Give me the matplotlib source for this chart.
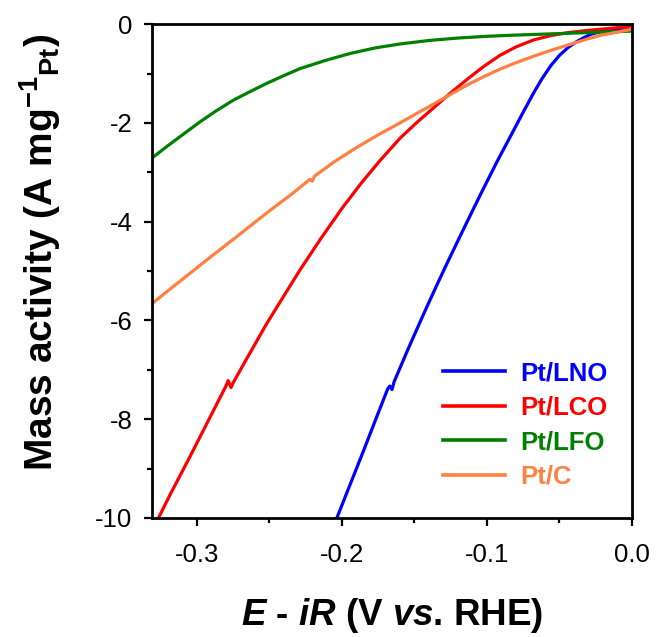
import numpy as np
import matplotlib
matplotlib.use('Agg')
import matplotlib.pyplot as plt
from matplotlib.ticker import MultipleLocator

plt.rcParams.update({
    'font.family': 'Liberation Sans',
    'mathtext.fontset': 'custom',
    'mathtext.rm': 'Liberation Sans',
    'mathtext.bf': 'Liberation Sans:bold',
    'mathtext.it': 'Liberation Sans:italic',
    'mathtext.bfit': 'Liberation Sans:italic:bold',
    'axes.unicode_minus': False,
})

# polarisation curves, E - iR (V vs RHE) and mass activity (A/mg Pt)
e_lno = [-0.2035, -0.195, -0.185, -0.176, -0.1685, -0.167, -0.1655, -0.164, -0.155, -0.144,
         -0.135, -0.127, -0.116, -0.104, -0.093, -0.082, -0.075, -0.068, -0.062, -0.056,
         -0.050, -0.044, -0.038, -0.033, -0.028, -0.020, -0.010, 0.0]
i_lno = [-10.0, -9.37, -8.63, -7.95, -7.39, -7.33, -7.40, -7.24, -6.62, -5.89,
         -5.31, -4.81, -4.14, -3.42, -2.78, -2.17, -1.78, -1.40, -1.10, -0.84,
         -0.63, -0.47, -0.35, -0.27, -0.20, -0.14, -0.09, -0.06]

e_lco = [-0.3265, -0.318, -0.305, -0.292, -0.280, -0.2785, -0.2765, -0.275, -0.265, -0.252,
         -0.240, -0.229, -0.215, -0.200, -0.187, -0.174, -0.160, -0.148, -0.137, -0.125,
         -0.113, -0.102, -0.091, -0.080, -0.068, -0.056, -0.044, -0.032, -0.021, -0.010, 0.0]
i_lco = [-10.0, -9.50, -8.77, -8.02, -7.33, -7.22, -7.36, -7.26, -6.74, -6.07,
         -5.50, -4.98, -4.36, -3.73, -3.23, -2.77, -2.31, -1.98, -1.70, -1.39,
         -1.10, -0.85, -0.63, -0.46, -0.32, -0.23, -0.17, -0.13, -0.10, -0.07, -0.05]

e_lfo = [-0.331, -0.320, -0.309, -0.298, -0.287, -0.275, -0.263, -0.252, -0.240, -0.229,
         -0.211, -0.194, -0.177, -0.160, -0.140, -0.120, -0.100, -0.080, -0.060, -0.040,
         -0.020, 0.0]
i_lfo = [-2.71, -2.46, -2.22, -1.98, -1.76, -1.54, -1.36, -1.20, -1.04, -0.90,
         -0.73, -0.59, -0.48, -0.40, -0.33, -0.28, -0.245, -0.22, -0.20, -0.18,
         -0.16, -0.14]

e_c = [-0.331, -0.320, -0.305, -0.290, -0.275, -0.263, -0.250, -0.235, -0.222, -0.2205,
       -0.219, -0.205, -0.190, -0.175, -0.160, -0.148, -0.137, -0.125, -0.113, -0.102,
       -0.091, -0.080, -0.068, -0.056, -0.044, -0.032, -0.021, -0.010, 0.0]
i_c = [-5.66, -5.40, -5.05, -4.70, -4.36, -4.08, -3.78, -3.45, -3.14, -3.18,
       -3.08, -2.78, -2.50, -2.24, -2.00, -1.80, -1.62, -1.42, -1.22, -1.06,
       -0.91, -0.78, -0.65, -0.53, -0.42, -0.31, -0.22, -0.16, -0.10]

labels = ['Pt/LNO', 'Pt/LCO', 'Pt/LFO', 'Pt/C']
colors = ['#0000FF', '#FF0000', '#008000', '#FF8040']

fig = plt.figure(figsize=(6.58, 6.37), dpi=100)
ax = fig.add_axes([0.231, 0.187, 0.7295, 0.775])

for (e, i), lab, col in zip([(e_lno, i_lno), (e_lco, i_lco), (e_lfo, i_lfo), (e_c, i_c)],
                            labels, colors):
    ax.plot(e, i, color=col, lw=2.3, label=lab)

ax.set_xlim(-0.331, 0.0)
ax.set_ylim(-10, 0)
ax.xaxis.set_major_locator(MultipleLocator(0.1))
ax.xaxis.set_minor_locator(MultipleLocator(0.05))
ax.yaxis.set_major_locator(MultipleLocator(2))
ax.yaxis.set_minor_locator(MultipleLocator(1))
ax.xaxis.set_major_formatter(plt.FuncFormatter(lambda v, p: f'{v:.1f}'))
ax.yaxis.set_major_formatter(plt.FuncFormatter(lambda v, p: f'{v:.0f}'))

for s in ax.spines.values():
    s.set_linewidth(2.0)
ax.tick_params(which='major', direction='out', length=6, width=1.6, labelsize=18.5, pad=12)
ax.tick_params(which='minor', direction='out', length=3.5, width=1.6)
ax.tick_params(axis='y', which='major', pad=8)

ax.set_xlabel(r'$\mathbfit{E}$ - $\mathbfit{iR}$ (V $\mathbfit{vs}$. RHE)',
              fontsize=26.5, fontweight='bold', labelpad=21)
ax.set_ylabel(r'Mass activity (A mg$^{\mathbf{-1}}$$_{\mathbf{Pt}}$)',
              fontsize=28, fontweight='bold')
ax.yaxis.set_label_coords(63 / 658, 1 - 252 / 637, transform=fig.transFigure)

leg = ax.legend(loc='upper left', bbox_to_anchor=(443 / 658, 1 - 361 / 637),
                bbox_transform=fig.transFigure, frameon=False,
                prop={'weight': 'bold', 'size': 18.5}, handlelength=2.4,
                handletextpad=0.6, labelspacing=0.41, borderpad=0, borderaxespad=0)
for txt, col in zip(leg.get_texts(), colors):
    txt.set_color(col)
for ln in leg.get_lines():
    ln.set_linewidth(2.6)

fig.savefig('out.png', dpi=100)
